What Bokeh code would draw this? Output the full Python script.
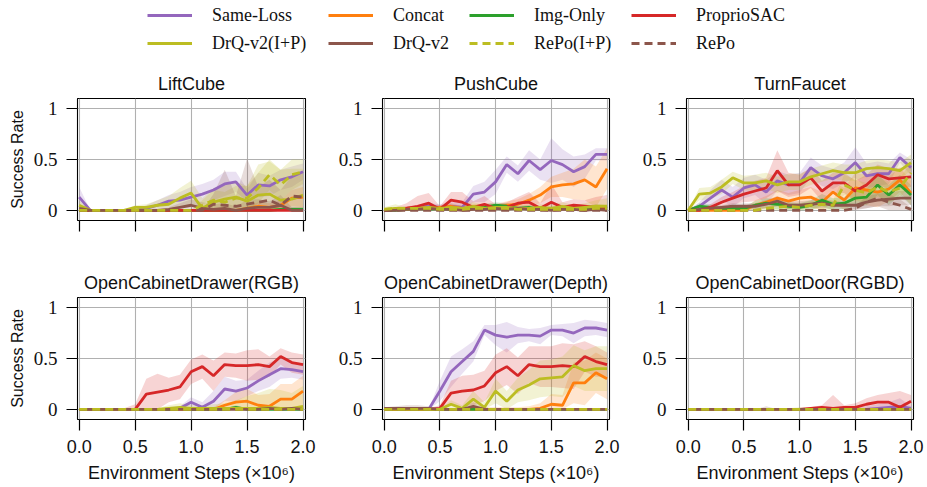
from bokeh.plotting import figure
from bokeh.models import Range1d, FixedTicker, Legend, LegendItem
from bokeh.layouts import column, row
from bokeh.embed import file_html
from bokeh.resources import INLINE

# ---------------- data ----------------
steps = [0.0, 0.1, 0.2, 0.3, 0.4, 0.5, 0.6, 0.7, 0.8, 0.9, 1.0,
         1.1, 1.2, 1.3, 1.4, 1.5, 1.6, 1.7, 1.8, 1.9, 2.0]

series_names = ["Same-Loss", "Concat", "Img-Only", "ProprioSAC",
                "DrQ-v2(I+P)", "DrQ-v2", "RePo(I+P)", "RePo"]
series_colors = ["#9467bd", "#ff7f0e", "#2ca02c", "#d62728",
                 "#bcbd22", "#8c564b", "#bcbd22", "#8c564b"]
series_dash = ["solid", "solid", "solid", "solid", "solid", "solid", "8 5", "8 5"]

task_titles = ["LiftCube", "PushCube", "TurnFaucet",
               "OpenCabinetDrawer(RGB)", "OpenCabinetDrawer(Depth)", "OpenCabinetDoor(RGBD)"]

x_ticks = [0, 0.5, 1, 1.5, 2]
x_tick_labels = ["0.0", "0.5", "1.0", "1.5", "2.0"]
y_ticks = [0, 0.5, 1]
y_tick_labels = ["0", "0.5", "1"]

zero = [0, 0, 0, 0, 0, 0, 0, 0, 0, 0, 0, 0, 0, 0, 0, 0, 0, 0, 0, 0, 0]

# LiftCube
lift_same = [0.13, 0, 0, 0, 0, 0, 0.02, 0.05, 0.09, 0.10, 0.13, 0.16, 0.20, 0.26, 0.28, 0.15, 0.25, 0.24, 0.30, 0.33, 0.38]
lift_same_sd = [0.10, 0, 0, 0, 0, 0.01, 0.03, 0.05, 0.06, 0.08, 0.10, 0.10, 0.10, 0.12, 0.10, 0.06, 0.12, 0.10, 0.10, 0.10, 0.08]
lift_concat = [0, 0, 0, 0, 0, 0, 0, 0, 0, 0, 0, 0, 0, 0, 0, 0.02, 0.04, 0.03, 0.05, 0.12, 0.13]
lift_concat_sd = [0, 0, 0, 0, 0, 0, 0, 0, 0, 0, 0, 0, 0, 0, 0, 0.02, 0.04, 0.04, 0.05, 0.08, 0.10]
lift_img = [0, 0, 0, 0, 0, 0, 0, 0, 0, 0, 0, 0, 0, 0, 0, 0, 0, 0, 0.01, 0.01, 0.01]
lift_img_sd = [0, 0, 0, 0, 0, 0, 0, 0, 0, 0, 0, 0, 0, 0, 0, 0, 0, 0.01, 0.02, 0.02, 0.02]
lift_sac = zero
lift_sac_sd = zero
lift_drqip = [0.05, 0, 0, 0, 0, 0.03, 0.03, 0.05, 0.06, 0.12, 0.17, 0.02, 0.08, 0.11, 0.13, 0.09, 0.15, 0.16, 0.10, 0.11, 0.15]
lift_drqip_sd = [0.05, 0, 0, 0, 0, 0.02, 0.03, 0.05, 0.08, 0.10, 0.12, 0.10, 0.14, 0.14, 0.15, 0.15, 0.30, 0.32, 0.30, 0.30, 0.26]
lift_drq = [0.02, 0, 0, 0, 0, 0, 0, 0, 0.01, 0.03, 0.05, 0.02, 0.01, 0.02, 0.00, 0.02, 0.03, 0.03, 0.05, 0.00, 0.00]
lift_drq_sd = [0.02, 0, 0, 0, 0, 0, 0, 0, 0.02, 0.04, 0.06, 0.06, 0.05, 0.05, 0.04, 0.08, 0.08, 0.06, 0.10, 0.03, 0.03]
lift_repoip = [0, 0, 0, 0, 0, 0, 0, 0, 0, 0, 0, 0.05, 0.10, 0.08, 0.12, 0.12, 0.22, 0.35, 0.25, 0.35, 0.38]
lift_repoip_sd = [0, 0, 0, 0, 0, 0, 0, 0, 0, 0, 0, 0.05, 0.10, 0.10, 0.12, 0.12, 0.15, 0.15, 0.15, 0.15, 0.12]
lift_repo = [0, 0, 0, 0, 0, 0, 0, 0, 0, 0, 0, 0, 0.06, 0.05, 0.04, 0.06, 0.08, 0.10, 0.05, 0.14, 0.13]
lift_repo_sd = [0, 0, 0, 0, 0, 0, 0, 0, 0, 0, 0, 0, 0.10, 0.35, 0.10, 0.45, 0.15, 0.20, 0.15, 0.20, 0.25]

# PushCube
push_same = [0, 0.01, 0.02, 0.03, 0.04, 0.03, 0.04, 0.03, 0.16, 0.18, 0.28, 0.45, 0.36, 0.49, 0.40, 0.49, 0.45, 0.38, 0.43, 0.55, 0.55]
push_same_sd = [0, 0.01, 0.02, 0.02, 0.03, 0.03, 0.04, 0.05, 0.08, 0.10, 0.12, 0.08, 0.08, 0.10, 0.10, 0.22, 0.15, 0.15, 0.12, 0.06, 0.06]
push_concat = [0, 0.01, 0.02, 0.03, 0.02, 0.03, 0.04, 0.02, 0.03, 0.04, 0.03, 0.05, 0.06, 0.10, 0.15, 0.23, 0.25, 0.26, 0.30, 0.23, 0.41]
push_concat_sd = [0, 0.01, 0.02, 0.02, 0.02, 0.02, 0.03, 0.02, 0.03, 0.03, 0.03, 0.04, 0.05, 0.06, 0.08, 0.10, 0.12, 0.15, 0.20, 0.20, 0.20]
push_img = [0, 0, 0.01, 0.02, 0.01, 0.02, 0.01, 0.01, 0.02, 0.03, 0.05, 0.04, 0.02, 0.03, 0.01, 0.02, 0.02, 0.01, 0.02, 0.03, 0.02]
push_img_sd = [0, 0.01, 0.01, 0.02, 0.02, 0.02, 0.02, 0.02, 0.02, 0.03, 0.03, 0.03, 0.02, 0.02, 0.02, 0.02, 0.02, 0.02, 0.02, 0.03, 0.03]
push_sac = [0, 0.01, 0.02, 0.04, 0.07, 0.01, 0.10, 0.08, 0.03, 0.06, 0.02, 0.03, 0.07, 0.08, 0.02, 0.08, 0.03, 0.05, 0.04, 0.03, 0.03]
push_sac_sd = [0, 0.02, 0.05, 0.10, 0.10, 0.03, 0.08, 0.10, 0.06, 0.08, 0.04, 0.05, 0.06, 0.10, 0.05, 0.18, 0.05, 0.06, 0.06, 0.10, 0.12]
push_drqip = [0.01, 0.02, 0.01, 0.02, 0.03, 0.02, 0.03, 0.02, 0.04, 0.02, 0.03, 0.03, 0.02, 0.02, 0.03, 0.02, 0.04, 0.02, 0.03, 0.04, 0.04]
push_drqip_sd = [0.02, 0.04, 0.02, 0.02, 0.03, 0.02, 0.03, 0.03, 0.04, 0.03, 0.03, 0.03, 0.03, 0.03, 0.03, 0.03, 0.04, 0.03, 0.04, 0.06, 0.08]
push_drq = [0, 0, 0.01, 0.01, 0.02, 0.01, 0.01, 0, 0.01, 0.01, 0.02, 0.01, 0.02, 0.01, 0.01, 0, 0.01, 0.01, 0, 0.01, 0]
push_drq_sd = [0, 0.01, 0.01, 0.02, 0.02, 0.01, 0.01, 0.01, 0.02, 0.02, 0.03, 0.02, 0.02, 0.02, 0.02, 0.01, 0.02, 0.02, 0.01, 0.02, 0.02]
push_repoip = [0.01, 0.02, 0.02, 0.02, 0.02, 0.01, 0.01, 0.01, 0.02, 0.02, 0.02, 0.02, 0.01, 0.01, 0.01, 0.01, 0.01, 0.01, 0.01, 0.02, 0.02]
push_repoip_sd = [0.01, 0.01, 0.01, 0.01, 0.01, 0.01, 0.01, 0.01, 0.01, 0.01, 0.01, 0.01, 0.01, 0.01, 0.01, 0.01, 0.01, 0.01, 0.01, 0.01, 0.01]
push_repo = zero
push_repo_sd = zero

# TurnFaucet
turn_same = [0, 0.04, 0.12, 0.20, 0.13, 0.22, 0.25, 0.18, 0.29, 0.25, 0.27, 0.42, 0.34, 0.31, 0.37, 0.47, 0.34, 0.36, 0.36, 0.52, 0.42]
turn_same_sd = [0, 0.04, 0.08, 0.10, 0.10, 0.10, 0.10, 0.12, 0.10, 0.10, 0.10, 0.10, 0.10, 0.10, 0.10, 0.15, 0.12, 0.12, 0.10, 0.05, 0.08]
turn_concat = [0, 0, 0, 0, 0, 0, 0.05, 0.08, 0.12, 0.09, 0.12, 0.13, 0.08, 0.18, 0.10, 0.22, 0.20, 0.18, 0.21, 0.30, 0.17]
turn_concat_sd = [0, 0, 0, 0, 0, 0.01, 0.05, 0.06, 0.08, 0.08, 0.08, 0.10, 0.10, 0.10, 0.12, 0.15, 0.15, 0.15, 0.12, 0.12, 0.12]
turn_img = [0, 0.04, 0.03, 0.02, 0.02, 0.02, 0.05, 0.07, 0.06, 0.04, 0.03, 0.05, 0.10, 0.06, 0.07, 0.12, 0.13, 0.25, 0.15, 0.25, 0.15]
turn_img_sd = [0, 0.03, 0.03, 0.02, 0.02, 0.02, 0.04, 0.05, 0.05, 0.04, 0.04, 0.05, 0.06, 0.06, 0.06, 0.08, 0.08, 0.10, 0.10, 0.10, 0.10]
turn_sac = [0, 0, 0.03, 0.08, 0.12, 0.16, 0.19, 0.22, 0.39, 0.25, 0.25, 0.32, 0.19, 0.27, 0.27, 0.19, 0.25, 0.35, 0.31, 0.32, 0.33]
turn_sac_sd = [0, 0.01, 0.03, 0.05, 0.06, 0.08, 0.10, 0.10, 0.20, 0.12, 0.10, 0.10, 0.10, 0.10, 0.10, 0.10, 0.10, 0.10, 0.10, 0.10, 0.10]
turn_drqip = [0, 0.16, 0.17, 0.23, 0.32, 0.27, 0.27, 0.29, 0.25, 0.28, 0.28, 0.33, 0.36, 0.39, 0.37, 0.37, 0.41, 0.42, 0.41, 0.39, 0.47]
turn_drqip_sd = [0, 0.06, 0.06, 0.07, 0.06, 0.07, 0.08, 0.08, 0.08, 0.08, 0.08, 0.08, 0.08, 0.08, 0.08, 0.08, 0.08, 0.08, 0.08, 0.08, 0.08]
turn_drq = [0, 0.01, 0.02, 0.03, 0.04, 0.04, 0.04, 0.06, 0.09, 0.05, 0.05, 0.06, 0.07, 0.05, 0.05, 0.05, 0.08, 0.10, 0.11, 0.12, 0.12]
turn_drq_sd = [0, 0.01, 0.02, 0.02, 0.03, 0.03, 0.03, 0.04, 0.05, 0.04, 0.04, 0.04, 0.05, 0.04, 0.04, 0.04, 0.06, 0.06, 0.07, 0.07, 0.07]
turn_repoip = [0, 0, 0, 0, 0, 0, 0, 0.02, 0.03, 0.04, 0.03, 0.05, 0.06, 0.05, 0.25, 0.20, 0.17, 0.23, 0.18, 0.22, 0.37]
turn_repoip_sd = [0, 0, 0, 0, 0, 0, 0.01, 0.02, 0.03, 0.03, 0.03, 0.04, 0.05, 0.05, 0.10, 0.10, 0.10, 0.10, 0.10, 0.10, 0.10]
turn_repo = [0, 0, 0, 0, 0, 0, 0, 0, 0, 0, 0, 0, 0, 0, 0, 0.02, 0.08, 0.12, 0.08, 0.05, 0.01]
turn_repo_sd = [0, 0, 0, 0, 0, 0, 0, 0, 0, 0, 0, 0, 0, 0, 0, 0.02, 0.06, 0.08, 0.08, 0.06, 0.02]

# OpenCabinetDrawer(RGB)
rgb_same = [0, 0, 0, 0, 0, 0, 0, 0, 0, 0.01, 0.07, 0.02, 0.08, 0.20, 0.18, 0.21, 0.28, 0.34, 0.40, 0.39, 0.37]
rgb_same_sd = [0, 0, 0, 0, 0, 0, 0.01, 0.01, 0.01, 0.02, 0.05, 0.05, 0.10, 0.12, 0.10, 0.08, 0.10, 0.12, 0.10, 0.08, 0.08]
rgb_concat = [0, 0, 0, 0, 0, 0, 0, 0, 0, 0, 0, 0, 0, 0.04, 0.07, 0.08, 0.04, 0.03, 0.10, 0.10, 0.18]
rgb_concat_sd = [0, 0, 0, 0, 0, 0, 0, 0, 0, 0, 0, 0, 0.02, 0.05, 0.10, 0.12, 0.10, 0.12, 0.15, 0.15, 0.15]
rgb_img = [0, 0, 0, 0, 0, 0, 0, 0, 0, 0.01, 0, 0, 0, 0, 0.02, 0, 0, 0, 0, 0, 0]
rgb_img_sd = [0, 0, 0, 0, 0, 0, 0, 0, 0.01, 0.01, 0.01, 0, 0, 0.01, 0.02, 0.01, 0, 0, 0, 0, 0]
rgb_sac = [0, 0, 0, 0, 0, 0, 0.15, 0.17, 0.19, 0.22, 0.37, 0.42, 0.33, 0.44, 0.43, 0.43, 0.44, 0.42, 0.52, 0.46, 0.44]
rgb_sac_sd = [0, 0, 0, 0, 0.01, 0.05, 0.15, 0.18, 0.12, 0.12, 0.12, 0.12, 0.15, 0.12, 0.12, 0.15, 0.15, 0.10, 0.08, 0.10, 0.10]
rgb_drqip = [0, 0, 0, 0, 0, 0, 0, 0, 0.01, 0.02, 0.01, 0.01, 0.01, 0.01, 0.01, 0.01, 0.01, 0.02, 0.01, 0.01, 0.03]
rgb_drqip_sd = [0, 0, 0, 0.01, 0, 0, 0, 0.01, 0.03, 0.04, 0.03, 0.03, 0.04, 0.05, 0.08, 0.12, 0.15, 0.18, 0.18, 0.15, 0.20]
rgb_drq = [0, 0, 0, 0, 0, 0, 0, 0, 0, 0, 0, 0, 0, 0, 0, 0, 0, 0.01, 0, 0.01, 0]
rgb_drq_sd = [0, 0, 0, 0, 0, 0, 0, 0, 0, 0, 0, 0, 0, 0, 0, 0, 0.01, 0.01, 0.01, 0.01, 0.01]
rgb_repoip = zero
rgb_repoip_sd = zero
rgb_repo = zero
rgb_repo_sd = zero

# OpenCabinetDrawer(Depth)
dep_same = [0, 0, 0, 0, 0, 0.18, 0.37, 0.47, 0.57, 0.78, 0.73, 0.71, 0.73, 0.73, 0.72, 0.78, 0.78, 0.75, 0.80, 0.80, 0.78]
dep_same_sd = [0, 0, 0, 0, 0, 0.10, 0.15, 0.12, 0.10, 0.05, 0.10, 0.15, 0.08, 0.06, 0.08, 0.05, 0.06, 0.10, 0.08, 0.07, 0.07]
dep_concat = [0, 0, 0, 0, 0, 0, 0, 0, 0, 0, 0, 0, 0, 0, 0.01, 0.05, 0.04, 0.26, 0.26, 0.36, 0.30]
dep_concat_sd = [0, 0, 0, 0, 0, 0, 0, 0.01, 0.03, 0.02, 0.02, 0.02, 0.02, 0.03, 0.05, 0.10, 0.10, 0.20, 0.22, 0.20, 0.20]
dep_img = zero
dep_img_sd = [0, 0, 0, 0, 0, 0, 0, 0, 0, 0, 0, 0, 0, 0, 0, 0, 0, 0.01, 0.01, 0.01, 0.01]
dep_sac = [0, 0, 0, 0, 0, 0.01, 0.16, 0.18, 0.19, 0.23, 0.36, 0.42, 0.33, 0.44, 0.42, 0.42, 0.43, 0.42, 0.52, 0.47, 0.44]
dep_sac_sd = [0, 0, 0, 0, 0.01, 0.03, 0.12, 0.15, 0.15, 0.15, 0.18, 0.18, 0.18, 0.18, 0.20, 0.20, 0.22, 0.22, 0.15, 0.15, 0.12]
dep_drqip = [0, 0, 0, 0, 0, 0, 0.05, 0.01, 0.10, 0.02, 0.18, 0.08, 0.19, 0.24, 0.30, 0.31, 0.32, 0.43, 0.38, 0.40, 0.40]
dep_drqip_sd = [0, 0, 0, 0, 0, 0, 0.04, 0.03, 0.08, 0.05, 0.12, 0.10, 0.12, 0.15, 0.18, 0.18, 0.20, 0.20, 0.20, 0.22, 0.22]
dep_drq = [0.01, 0.01, 0.01, 0.01, 0.01, 0, 0, 0, 0.03, 0, 0, 0, 0, 0, 0, 0, 0, 0, 0, 0, 0]
dep_drq_sd = [0.01, 0.02, 0.03, 0.03, 0.02, 0.01, 0.01, 0.02, 0.04, 0.02, 0, 0, 0, 0, 0, 0, 0, 0, 0, 0, 0]
dep_repoip = zero
dep_repoip_sd = zero
dep_repo = zero
dep_repo_sd = zero

# OpenCabinetDoor(RGBD)
door_same = [0, 0, 0, 0, 0, 0, 0, 0, 0, 0, 0, 0, 0, 0, 0, 0, 0, 0.01, 0.02, 0.03, 0.01]
door_same_sd = [0, 0, 0, 0, 0, 0, 0, 0, 0.01, 0.01, 0.01, 0.01, 0.01, 0.01, 0.01, 0.02, 0.03, 0.04, 0.05, 0.08, 0.02]
door_concat = zero
door_concat_sd = zero
door_img = zero
door_img_sd = zero
door_sac = [0, 0, 0, 0, 0, 0, 0, 0, 0, 0, 0, 0.01, 0.02, 0.01, 0.02, 0.02, 0.05, 0.07, 0.07, 0.02, 0.08]
door_sac_sd = [0, 0, 0, 0, 0, 0, 0, 0, 0.01, 0.01, 0.01, 0.01, 0.02, 0.13, 0.02, 0.04, 0.06, 0.07, 0.09, 0.16, 0.06]
door_drqip = zero
door_drqip_sd = [0, 0, 0, 0, 0, 0, 0.01, 0.01, 0.01, 0.01, 0.02, 0.01, 0.01, 0.02, 0.01, 0.01, 0.01, 0.01, 0.01, 0.01, 0.01]
door_drq = zero
door_drq_sd = [0, 0, 0, 0, 0, 0, 0, 0.03, 0, 0, 0, 0, 0, 0, 0, 0, 0, 0, 0, 0, 0]
door_repoip = zero
door_repoip_sd = zero
door_repo = zero
door_repo_sd = zero

panel_means = [
    [lift_same, lift_concat, lift_img, lift_sac, lift_drqip, lift_drq, lift_repoip, lift_repo],
    [push_same, push_concat, push_img, push_sac, push_drqip, push_drq, push_repoip, push_repo],
    [turn_same, turn_concat, turn_img, turn_sac, turn_drqip, turn_drq, turn_repoip, turn_repo],
    [rgb_same, rgb_concat, rgb_img, rgb_sac, rgb_drqip, rgb_drq, rgb_repoip, rgb_repo],
    [dep_same, dep_concat, dep_img, dep_sac, dep_drqip, dep_drq, dep_repoip, dep_repo],
    [door_same, door_concat, door_img, door_sac, door_drqip, door_drq, door_repoip, door_repo],
]
panel_sds = [
    [lift_same_sd, lift_concat_sd, lift_img_sd, lift_sac_sd, lift_drqip_sd, lift_drq_sd, lift_repoip_sd, lift_repo_sd],
    [push_same_sd, push_concat_sd, push_img_sd, push_sac_sd, push_drqip_sd, push_drq_sd, push_repoip_sd, push_repo_sd],
    [turn_same_sd, turn_concat_sd, turn_img_sd, turn_sac_sd, turn_drqip_sd, turn_drq_sd, turn_repoip_sd, turn_repo_sd],
    [rgb_same_sd, rgb_concat_sd, rgb_img_sd, rgb_sac_sd, rgb_drqip_sd, rgb_drq_sd, rgb_repoip_sd, rgb_repo_sd],
    [dep_same_sd, dep_concat_sd, dep_img_sd, dep_sac_sd, dep_drqip_sd, dep_drq_sd, dep_repoip_sd, dep_repo_sd],
    [door_same_sd, door_concat_sd, door_img_sd, door_sac_sd, door_drqip_sd, door_drq_sd, door_repoip_sd, door_repo_sd],
]

# ---------------- layout ----------------
col_w = [321, 304, 302]
col_left = [77, 61, 61]
col_right = [16, 16, 14]
row_h = [192, 237]
row_top = [40, 47]
row_bot = [30, 68]

SANS = "Liberation Sans"
SERIF = "Liberation Serif"
LW = 2.8
draw_order = [0, 1, 2, 3, 4, 5, 7, 6]


def make_panel(k):
    r, c = divmod(k, 3)
    p = figure(width=col_w[c], height=row_h[r],
               x_range=Range1d(-0.015, 2.022), y_range=Range1d(-0.1, 1.1),
               toolbar_location=None, output_backend="svg",
               min_border_left=col_left[c], min_border_right=col_right[c],
               min_border_top=row_top[r], min_border_bottom=row_bot[r],
               title=task_titles[k])
    p.title.align = "center"
    p.title.text_font = SANS
    p.title.text_font_size = "18px"
    p.title.text_font_style = "normal"
    p.title.text_color = "#111111"
    p.title.standoff = 9
    p.background_fill_color = "white"
    p.border_fill_color = "white"
    p.outline_line_color = "black"
    p.outline_line_width = 1.1

    p.xaxis.ticker = FixedTicker(ticks=x_ticks)
    p.yaxis.ticker = FixedTicker(ticks=y_ticks)
    p.xgrid.ticker = FixedTicker(ticks=x_ticks)
    p.ygrid.ticker = FixedTicker(ticks=y_ticks)
    p.grid.grid_line_color = "#b0b0b0"
    p.grid.grid_line_width = 1.1

    if r == 1:
        p.xaxis.major_label_overrides = dict(zip(x_ticks, x_tick_labels))
        p.xaxis.axis_label = "Environment Steps (\u00d710\u2076)"
    else:
        p.xaxis.major_label_overrides = dict(zip(x_ticks, ["" for _ in x_ticks]))
    p.yaxis.major_label_overrides = dict(zip(y_ticks, y_tick_labels))
    if c == 0:
        p.yaxis.axis_label = "Success Rate"

    for ax in p.axis:
        ax.axis_line_color = None
        ax.major_tick_out = 11
        ax.major_tick_in = 0
        ax.major_tick_line_width = 1.2
        ax.major_tick_line_color = "black"
        ax.minor_tick_line_color = None
        ax.axis_label_text_font_style = "normal"
        ax.axis_label_text_color = "#111111"
        ax.major_label_text_color = "#111111"
    p.xaxis.major_label_text_font = SANS
    p.xaxis.major_label_text_font_size = "18px"
    p.xaxis.major_label_standoff = 9
    p.xaxis.axis_label_text_font = SANS
    p.xaxis.axis_label_text_font_size = "18px"
    p.xaxis.axis_label_standoff = 7
    p.yaxis.major_label_text_font = SERIF
    p.yaxis.major_label_text_font_size = "19px"
    p.yaxis.major_label_standoff = 9
    p.yaxis.axis_label_text_font = SANS
    p.yaxis.axis_label_text_font_size = "16px"
    p.yaxis.axis_label_standoff = 5

    means = panel_means[k]
    sds = panel_sds[k]
    for i in range(8):
        lo = [max(0.0, m - s) for m, s in zip(means[i], sds[i])]
        hi = [min(1.0, m + s) for m, s in zip(means[i], sds[i])]
        p.varea(x=steps, y1=lo, y2=hi, fill_color=series_colors[i], fill_alpha=0.2)
    for i in draw_order:
        p.line(x=steps, y=means[i], line_color=series_colors[i], line_width=LW,
               line_dash=series_dash[i])
    return p


panels = [make_panel(k) for k in range(6)]

# ---------------- legend ----------------
lg = figure(width=927, height=58, x_range=Range1d(0, 1), y_range=Range1d(0, 1),
            toolbar_location=None, output_backend="svg", min_border=0,
            x_axis_location=None, y_axis_location=None)
lg.outline_line_color = None
lg.grid.visible = False
lg.background_fill_color = "white"
lg.border_fill_color = "white"
nan = float("nan")
dummy = [lg.line(x=[nan], y=[nan], line_color=series_colors[i], line_width=LW,
                 line_dash=series_dash[i]) for i in range(8)]
legend_x = [147, 328, 469, 631]
for cidx in range(4):
    items = [LegendItem(label=series_names[cidx], renderers=[dummy[cidx]]),
             LegendItem(label=series_names[cidx + 4], renderers=[dummy[cidx + 4]])]
    leg = Legend(items=items, location=(legend_x[cidx], 4), orientation="vertical",
                 glyph_width=45, glyph_height=22, label_height=22, label_standoff=20,
                 spacing=6, padding=0, margin=0, border_line_color=None,
                 background_fill_alpha=0, label_text_font=SERIF,
                 label_text_font_size="18px", label_text_color="#111111")
    lg.add_layout(leg)

layout = column(lg, row(panels[0], panels[1], panels[2]), row(panels[3], panels[4], panels[5]))

open("out.html", "w").write(file_html(layout, INLINE))
